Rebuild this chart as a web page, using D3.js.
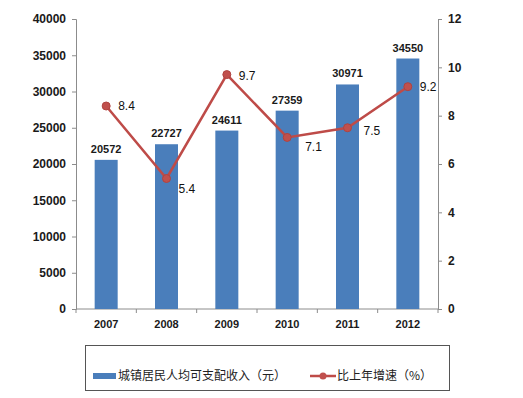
<!DOCTYPE html>
<html>
<head>
<meta charset="utf-8">
<script src="https://cdn.jsdelivr.net/npm/d3@7"></script>
<style>
  body { margin: 0; background: #fff; }
  text { font-family: "Liberation Sans", Arial, sans-serif; }
</style>
</head>
<body>
<svg id="chart" width="523" height="398"></svg>
<script>
var years = ["2007", "2008", "2009", "2010", "2011", "2012"];
var income = [20572, 22727, 24611, 27359, 30971, 34550];
var growth = [8.4, 5.4, 9.7, 7.1, 7.5, 9.2];
var leftTicks = [0, 5000, 10000, 15000, 20000, 25000, 30000, 35000, 40000];
var rightTicks = [0, 2, 4, 6, 8, 10, 12];
var legendLabels = ["城镇居民人均可支配收入（元）", "比上年增速（%）"];
// label offsets for the growth points (dx, dy)
var growthLabelPos = [[12, 4], [12, 14], [12, 5], [18, 14], [16, 7], [12, 4]];

var blue = "#4A7EBB", red = "#BE4B48", axisCol = "#8C8C8C";
var svg = d3.select("#chart");
var pLeft = 76, pRight = 438, pTop = 19, pBottom = 309;

var x = d3.scaleBand().domain(years).range([pLeft, pRight]);
var yL = d3.scaleLinear().domain([0, 40000]).range([pBottom, pTop]);
var yR = d3.scaleLinear().domain([0, 12]).range([pBottom, pTop]);

// left axis
var gl = svg.append("g").attr("transform", "translate(" + pLeft + ",0)")
  .call(d3.axisLeft(yL).tickValues(leftTicks).tickSize(4).tickPadding(6).tickFormat(d3.format("d")));
// right axis
var gr = svg.append("g").attr("transform", "translate(" + pRight + ",0)")
  .call(d3.axisRight(yR).tickValues(rightTicks).tickSize(4).tickPadding(6));
// bottom axis
var gb = svg.append("g").attr("transform", "translate(0," + pBottom + ")")
  .call(d3.axisBottom(x).tickSize(0).tickPadding(11));

[gl, gr, gb].forEach(function (g) {
  g.select(".domain").attr("stroke", axisCol);
  g.selectAll(".tick line").attr("stroke", axisCol);
  g.selectAll("text").attr("fill", "#1a1a1a").style("font-weight", "bold")
    .style("font-size", "12px").style("font-family", "'Liberation Sans', Arial, sans-serif");
});
gb.selectAll("text").style("font-size", "11px");
gb.select(".domain").attr("d", "M" + pLeft + ",0H" + pRight);

// category separator ticks below the axis
svg.selectAll("line.sep").data(d3.range(years.length + 1)).enter().append("line")
  .attr("x1", function (i) { return pLeft + i * x.step(); })
  .attr("x2", function (i) { return pLeft + i * x.step(); })
  .attr("y1", pBottom).attr("y2", pBottom + 4)
  .attr("stroke", axisCol);

// bars
var bw = 23;
svg.selectAll("rect.bar").data(income).enter().append("rect")
  .attr("x", function (d, i) { return x(years[i]) + x.bandwidth() / 2 - bw / 2; })
  .attr("y", function (d) { return yL(d); })
  .attr("width", bw)
  .attr("height", function (d) { return pBottom - yL(d); })
  .attr("fill", blue);

svg.selectAll("text.barlab").data(income).enter().append("text")
  .attr("x", function (d, i) { return x(years[i]) + x.bandwidth() / 2; })
  .attr("y", function (d) { return yL(d) - 7; })
  .attr("text-anchor", "middle")
  .style("font-size", "11px").style("font-weight", "bold").attr("fill", "#1a1a1a")
  .text(function (d) { return d; });

// growth line
var cx = function (d, i) { return x(years[i]) + x.bandwidth() / 2; };
var line = d3.line().x(cx).y(function (d) { return yR(d); });
svg.append("path").datum(growth).attr("d", line)
  .attr("fill", "none").attr("stroke", red).attr("stroke-width", 2.5);
svg.selectAll("circle.pt").data(growth).enter().append("circle")
  .attr("cx", cx).attr("cy", function (d) { return yR(d); })
  .attr("r", 4).attr("fill", "#C0504D").attr("stroke", "#B04340").attr("stroke-width", 1);
svg.selectAll("text.ptlab").data(growth).enter().append("text")
  .attr("x", function (d, i) { return cx(d, i) + growthLabelPos[i][0]; })
  .attr("y", function (d, i) { return yR(d) + growthLabelPos[i][1]; })
  .style("font-size", "12px").attr("fill", "#111")
  .text(function (d) { return d.toFixed(1); });

// legend
var lg = svg.append("g");
lg.append("rect").attr("x", 85.5).attr("y", 345.5).attr("width", 364).attr("height", 45)
  .attr("fill", "#fff").attr("stroke", "#555").attr("stroke-width", 1);
lg.append("rect").attr("x", 93).attr("y", 373).attr("width", 23).attr("height", 6).attr("fill", blue);
lg.append("text").attr("x", 118).attr("y", 380).style("font-size", "12px").attr("fill", "#222")
  .style("font-family", "'Noto Sans CJK SC', sans-serif").text(legendLabels[0]);
lg.append("line").attr("x1", 310).attr("x2", 336).attr("y1", 376).attr("y2", 376)
  .attr("stroke", red).attr("stroke-width", 2.5);
lg.append("circle").attr("cx", 323).attr("cy", 376).attr("r", 3.5).attr("fill", "#C0504D");
lg.append("text").attr("x", 337).attr("y", 380).style("font-size", "12px").attr("fill", "#222")
  .style("font-family", "'Noto Sans CJK SC', sans-serif").text(legendLabels[1]);
</script>
</body>
</html>
